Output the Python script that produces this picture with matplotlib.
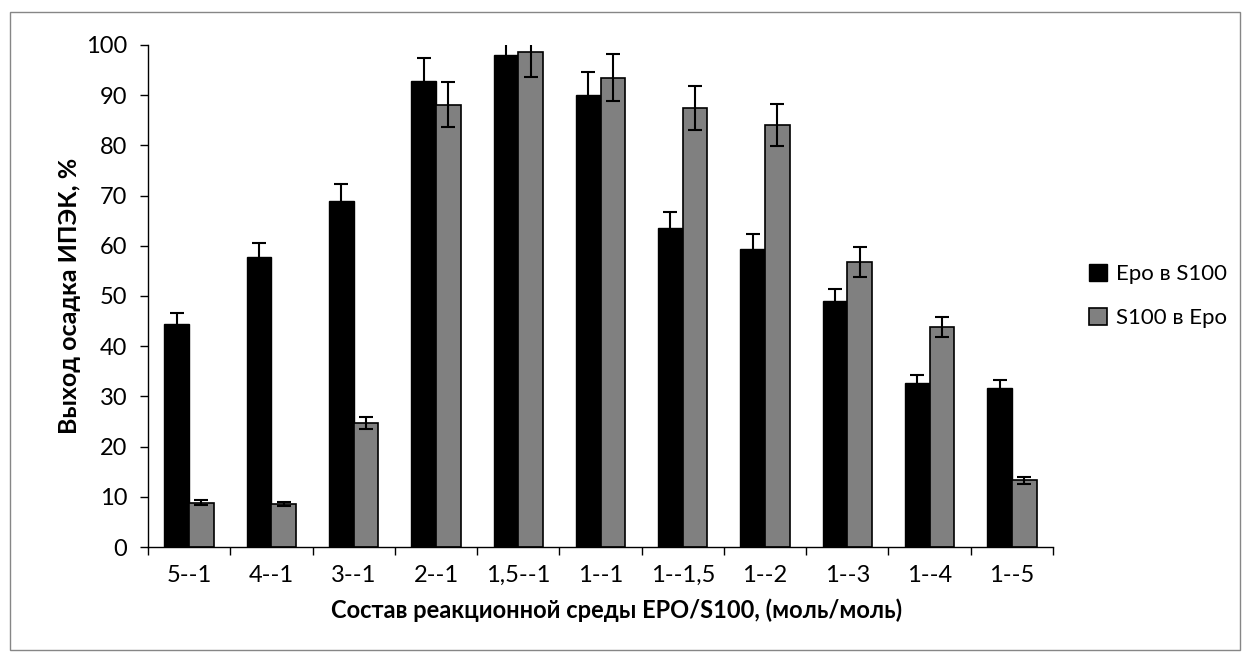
import numpy as np
import matplotlib.pyplot as plt
from matplotlib.patches import Rectangle

# Data
categories = ['5--1', '4--1', '3--1', '2--1', '1,5--1', '1--1', '1--1,5', '1--2', '1--3', '1--4', '1--5']
epo_in_s100 = [44.4, 57.8, 69.0, 92.9, 98.1, 90.0, 63.5, 59.4, 49.0, 32.7, 31.7]
epo_err = [2.3, 2.7, 3.3, 4.6, 4.9, 4.6, 3.2, 2.9, 2.4, 1.5, 1.6]
s100_in_epo = [8.8, 8.5, 24.7, 88.1, 98.7, 93.5, 87.4, 84.1, 56.8, 43.8, 13.3]
s100_err = [0.5, 0.4, 1.2, 4.5, 5.0, 4.7, 4.4, 4.2, 3.0, 2.0, 0.7]

plt.rcParams['font.family'] = ['Lato', 'DejaVu Sans']

fig = plt.figure(figsize=(12.51, 6.62), dpi=100)
ax = fig.add_axes([148 / 1251, 1 - 547 / 662, (1053 - 148) / 1251, (547 - 45) / 662])

x = np.arange(len(categories))
w = 0.3
ax.bar(x - w / 2, epo_in_s100, w, color='black', edgecolor='black', linewidth=1,
       yerr=epo_err, error_kw=dict(ecolor='black', elinewidth=1.5, capsize=5, capthick=1.5),
       label='Epo в S100')
ax.bar(x + w / 2, s100_in_epo, w, color='#808080', edgecolor='black', linewidth=1.2,
       yerr=s100_err, error_kw=dict(ecolor='black', elinewidth=1.5, capsize=5, capthick=1.5),
       label='S100 в Epo')

ax.set_xlim(-0.5, len(categories) - 0.5)
ax.set_ylim(0, 100)
ax.set_yticks(np.arange(0, 101, 10))

# ticks between categories, labels at centers
ax.set_xticks(np.arange(-0.5, len(categories), 1))
ax.set_xticklabels([])
ax.set_xticks(x, minor=True)
ax.set_xticklabels(categories, minor=True)
ax.tick_params(axis='x', which='major', direction='out', length=6, width=1)
ax.tick_params(axis='x', which='minor', length=0, pad=13, labelsize=17)
ax.tick_params(axis='y', direction='out', length=6, width=1, labelsize=17, pad=9)

for s in ['top', 'right']:
    ax.spines[s].set_visible(False)
ax.spines['left'].set_linewidth(1)
ax.spines['bottom'].set_linewidth(1)

ax.set_ylabel('Выход осадка ИПЭК, %', fontsize=18, fontweight='bold')
ax.yaxis.set_label_coords(-0.074, 0.5)
ax.set_xlabel('Состав реакционной среды EPO/S100, (моль/моль)', fontsize=17,
              fontweight='bold')
ax.xaxis.set_label_coords(0.518, -0.102)

ax.legend(loc='center left', bbox_to_anchor=(1.03, 0.5), frameon=False, fontsize=16,
          handlelength=0.8, handleheight=0.8, handletextpad=0.4, labelspacing=1.1,
          borderaxespad=0)

fig.patches.append(Rectangle((10 / 1251, 1 - 650 / 662), 1230 / 1251, 638 / 662,
                             transform=fig.transFigure, fill=False,
                             edgecolor='#868686', linewidth=1))

fig.savefig('out.png', dpi=100)
